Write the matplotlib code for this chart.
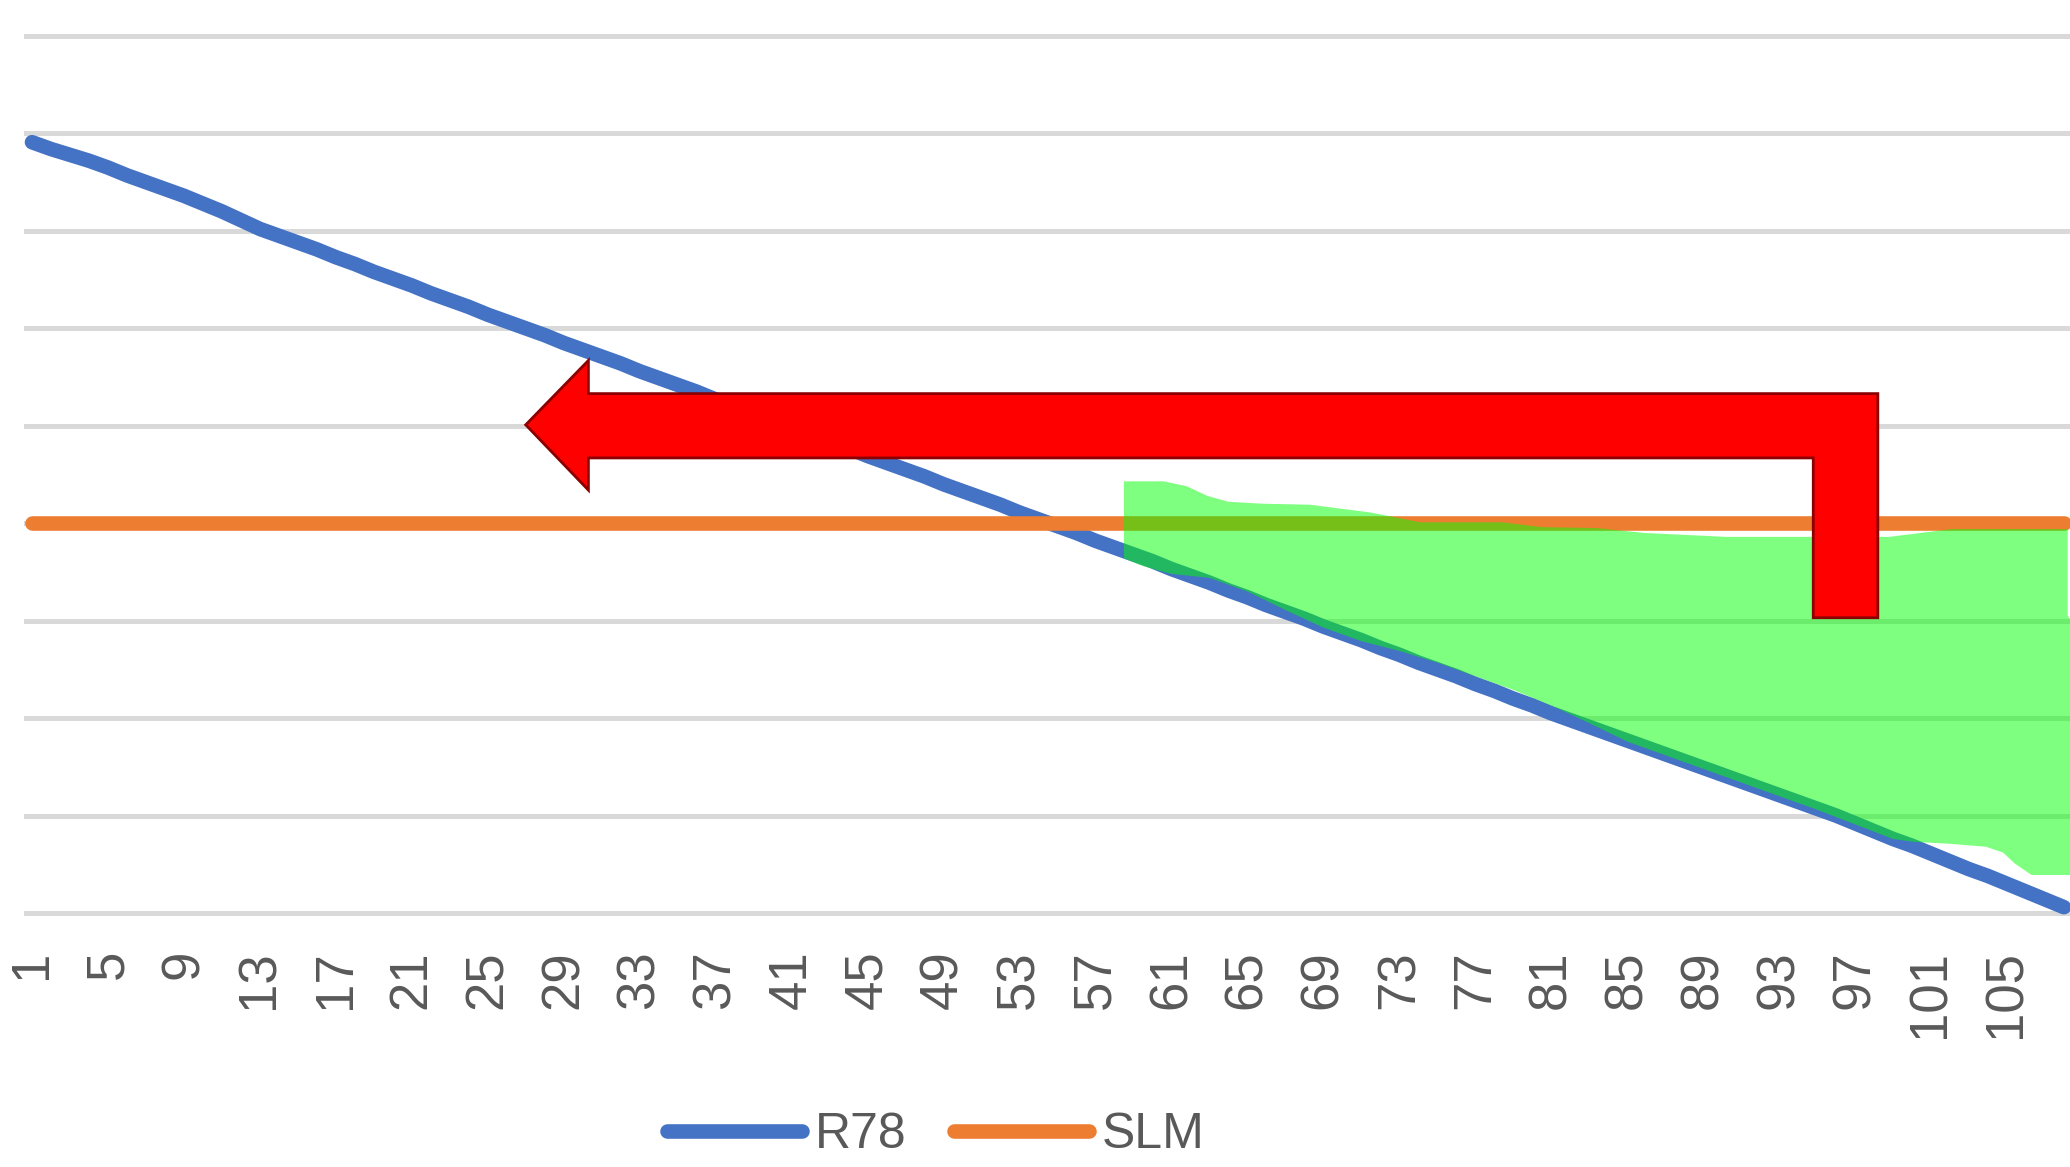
import matplotlib
matplotlib.use("Agg")
import matplotlib.pyplot as plt
from matplotlib.patches import Polygon

# categories 1..108
cats = list(range(1, 109))
tick_labels = [str(c) for c in range(1, 106, 4)]

r78 = [79.1, 78.4, 77.8, 77.2, 76.5, 75.7, 75.0, 74.3, 73.6, 72.8,
       72.0, 71.1, 70.2, 69.5, 68.8, 68.1, 67.3, 66.6, 65.8, 65.1,
       64.4, 63.6, 62.9, 62.2, 61.4, 60.7, 60.0, 59.3, 58.5, 57.8,
       57.1, 56.4, 55.6, 54.9, 54.2, 53.5, 52.7, 52.0, 51.3, 50.6,
       49.8, 49.1, 48.4, 47.7, 46.9, 46.2, 45.5, 44.8, 44.0, 43.3,
       42.6, 41.9, 41.1, 40.4, 39.7, 39.0, 38.2, 37.5, 36.8, 36.1,
       35.3, 34.6, 33.9, 33.1, 32.4, 31.6, 30.9, 30.2, 29.4, 28.7,
       28.0, 27.2, 26.5, 25.7, 25.0, 24.3, 23.5, 22.8, 22.0, 21.3,
       20.5, 19.8, 19.1, 18.4, 17.7, 17.0, 16.3, 15.6, 14.9, 14.2,
       13.5, 12.8, 12.1, 11.4, 10.7, 10.0, 9.2, 8.4, 7.6, 6.9,
       6.1, 5.3, 4.5, 3.8, 3.0, 2.2, 1.4, 0.6]
slm = [40.0] * len(cats)

# green highlighted area (upper edge left->right, lower edge right->left)
shade_top_x = [58.5, 60.6, 61.8, 62.9, 64.0, 65.8, 68.3, 71.5, 74.1, 78.4,
               80.5, 83.4, 85.9, 90.2, 94.9, 98.8, 102.1, 108.2, 108.2, 109.5]
shade_top_y = [44.3, 44.3, 43.8, 42.8, 42.2, 42.0, 41.9, 41.1, 40.1, 40.1,
               39.6, 39.5, 39.0, 38.6, 38.6, 38.6, 39.4, 39.4, 30.5, 27.0]
shade_bot_x = [109.5, 106.3, 105.4, 104.8, 103.9, 102.0, 100.1, 99, 97, 95,
               93, 91, 89, 87, 85, 83, 81, 79, 77, 75,
               73, 71, 69, 67, 65, 63, 61, 59.5, 58.5]
shade_bot_y = [3.9, 3.9, 5.1, 6.2, 6.8, 7.1, 7.3, 7.6, 9.1, 10.6,
               12.0, 13.4, 14.8, 16.2, 17.6, 19.5, 21.3, 22.9, 24.3, 25.7,
               26.9, 27.9, 29.3, 31.1, 33.0, 34.4, 34.8, 35.6, 36.4]

# L-shaped red arrow outline
arrow_x = [27.0, 30.3, 30.3, 98.2, 98.2, 94.8, 94.8, 30.3, 30.3]
arrow_y = [50.1, 56.7, 53.3, 53.3, 30.3, 30.3, 46.7, 46.7, 43.4]

plt.rcParams['font.family'] = ['Liberation Sans', 'DejaVu Sans']

fig = plt.figure(figsize=(20.7, 11.67), dpi=100)
ax = fig.add_axes([24 / 2070, 1 - 925 / 1167, 1 - 24 / 2070, 905 / 1167])

ax.plot(cats, r78, color='#4472c4', lw=10.5, solid_capstyle='round', label='R78', zorder=3)
ax.plot(cats, slm, color='#ed7d31', lw=10.5, solid_capstyle='round', label='SLM', zorder=3)

shade = list(zip(shade_top_x, shade_top_y)) + list(zip(shade_bot_x, shade_bot_y))
ax.add_patch(Polygon(shade, closed=True, facecolor='#00ff00', alpha=0.5,
                     edgecolor='none', zorder=4))
ax.add_patch(Polygon(list(zip(arrow_x, arrow_y)), closed=True, facecolor='#ff0000',
                     edgecolor='#8b0000', lw=2, zorder=5))

ax.set_xlim(0.58, 108.32)
ax.set_ylim(-1.23, 91.64)
ax.set_yticks(range(0, 91, 10))
ax.yaxis.grid(True, color='#d9d9d9', lw=3.6)
ax.set_axisbelow(True)
ax.set_xticks(range(1, 106, 4))
ax.set_xticklabels(tick_labels, rotation=90, fontsize=38, color='#595959')
ax.tick_params(axis='x', length=0, pad=18)
ax.tick_params(axis='y', length=0, labelleft=False)
for s in ax.spines.values():
    s.set_visible(False)

# legend kept just inside the bottom edge
fig.legend(loc='center', bbox_to_anchor=(0.452, 0.027), ncol=2, frameon=False,
           fontsize=36, labelcolor='#595959', handlelength=2.7, handletextpad=0.25,
           columnspacing=0.95, borderpad=0.1)

fig.savefig('out.png', dpi=100)
